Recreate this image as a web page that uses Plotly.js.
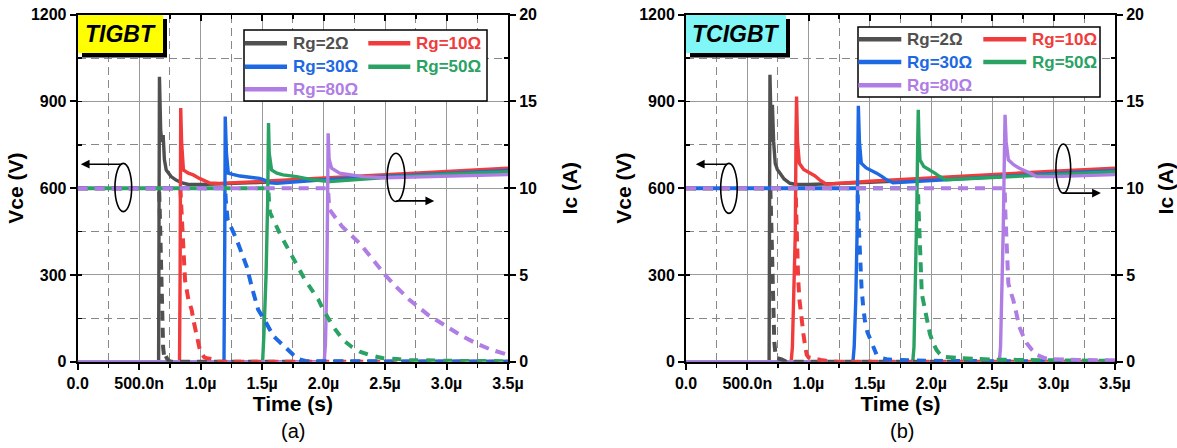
<!DOCTYPE html>
<html><head><meta charset="utf-8">
<script src="https://cdn.plot.ly/plotly-3.0.1.min.js"></script>
<style>html,body{margin:0;padding:0;background:#fff}#chart{width:1177px;height:448px}</style>
</head><body><div id="chart"></div>
<script>
// ---------------- DATA ----------------
const seriesNames = ['Rg=2Ω', 'Rg=10Ω', 'Rg=30Ω', 'Rg=50Ω', 'Rg=80Ω'];
const seriesColors = ['#505050', '#f03c3c', '#1d68e3', '#2aa264', '#b07de4'];
const xTickVals = [0, 0.5, 1, 1.5, 2, 2.5, 3, 3.5];
const xTickText = ['0.0', '500.0n', '1.0µ', '1.5µ', '2.0µ', '2.5µ', '3.0µ', '3.5µ'];
const vTickVals = [0, 300, 600, 900, 1200];
const iTickVals = [0, 5, 10, 15, 20];
const panelLabels = ['TIGBT', 'TCIGBT'];
const panelCaptions = ['(a)', '(b)'];

// Panel (a) TIGBT : time in µs, Vce in V
const tigbtVceTime = [
  [0, 0.658, 0.665, 0.675, 0.685, 0.695, 0.705, 0.72, 0.76, 0.80, 0.85, 0.90, 1.0, 1.5, 2.0, 2.5, 3.0, 3.5],
  [0, 0.828, 0.833, 0.838, 0.845, 0.86, 0.90, 0.94, 0.99, 1.03, 1.075, 1.15, 1.5, 2.0, 2.5, 3.0, 3.5],
  [0, 1.19, 1.196, 1.2, 1.21, 1.225, 1.26, 1.32, 1.40, 1.48, 1.53, 1.565, 1.62, 2.0, 2.5, 3.0, 3.5],
  [0, 1.504, 1.515, 1.532, 1.545, 1.552, 1.558, 1.577, 1.62, 1.67, 1.78, 1.915, 2.05, 2.5, 3.0, 3.5],
  [0, 2.005, 2.015, 2.025, 2.033, 2.037, 2.045, 2.065, 2.13, 2.32, 2.5, 3.0, 3.5]
];
const tigbtVce = [
  [0, 0, 985, 800, 760, 784, 700, 663, 640, 628, 618, 613, 613, 620, 630, 641, 652, 664],
  [0, 0, 300, 877, 760, 663, 652, 646, 634, 625, 618, 616, 624, 636, 648, 659, 669],
  [0, 0, 400, 848, 720, 652, 648, 642, 638, 634, 626, 619, 617, 629, 641, 652, 661],
  [0, 0, 98, 300, 550, 825, 720, 663, 652, 646, 640, 629, 623, 637, 648, 657],
  [0, 0, 60, 250, 560, 790, 700, 669, 652, 640, 636, 641, 647]
];
// Panel (a) TIGBT : Ic in A
const tigbtIcTime = [
  [0, 0.662, 0.668, 0.675, 0.68, 0.688, 0.695, 0.705, 0.715, 0.725, 0.74, 0.76, 3.5],
  [0, 0.835, 0.844, 0.86, 0.873, 0.90, 0.927, 0.947, 0.967, 0.99, 1.008, 1.03, 1.05, 1.10, 1.12, 3.5],
  [0, 1.2, 1.205, 1.22, 1.30, 1.374, 1.42, 1.468, 1.536, 1.59, 1.618, 1.68, 1.726, 1.753, 1.80, 1.86, 3.5],
  [0, 1.55, 1.556, 1.564, 1.65, 1.753, 1.85, 1.956, 1.997, 2.08, 2.16, 2.23, 2.295, 2.40, 2.485, 2.60, 2.70, 3.0, 3.5],
  [0, 2.035, 2.042, 2.05, 2.15, 2.296, 2.40, 2.5, 2.60, 2.70, 2.85, 3.0, 3.12, 3.24, 3.36, 3.5]
];
const tigbtIc = [
  [10, 10, 8.5, 6, 4.5, 2.5, 0.8, 0.2, 0.35, 0.2, 0.05, 0, 0],
  [10, 10, 8.75, 6.5, 4.7, 3.6, 2.98, 2.2, 1.44, 0.8, 0.48, 0.25, 0.2, 0.15, 0, 0],
  [10, 10, 9.2, 8.2, 6.9, 5.5, 4.2, 3.0, 2.2, 1.5, 1.3, 0.85, 0.58, 0.4, 0.15, 0.03, 0],
  [10, 10, 9.3, 8.6, 7.3, 5.9, 4.7, 3.6, 3.0, 2.0, 1.25, 0.85, 0.58, 0.33, 0.2, 0.15, 0.1, 0.05, 0.03],
  [10, 10, 9.3, 8.75, 7.8, 6.8, 5.9, 5.0, 4.25, 3.56, 2.7, 2.0, 1.5, 1.06, 0.7, 0.4]
];

// Panel (b) TCIGBT : time in µs, Vce in V
const tcigbtVceTime = [
  [0, 0.678, 0.685, 0.69, 0.697, 0.705, 0.715, 0.728, 0.745, 0.767, 0.80, 0.848, 0.90, 1.0, 1.5, 2.0, 2.5, 3.0, 3.5],
  [0, 0.858, 0.868, 0.88, 0.892, 0.898, 0.902, 0.91, 0.925, 0.96, 1.013, 1.05, 1.09, 1.145, 1.5, 2.0, 2.5, 3.0, 3.5],
  [0, 1.362, 1.372, 1.385, 1.396, 1.402, 1.406, 1.415, 1.43, 1.47, 1.52, 1.555, 1.60, 1.637, 1.69, 2.0, 2.5, 3.0, 3.5],
  [0, 1.85, 1.86, 1.87, 1.882, 1.89, 1.895, 1.90, 1.909, 1.94, 1.99, 2.03, 2.07, 2.12, 2.5, 3.0, 3.5],
  [0, 2.556, 2.566, 2.576, 2.588, 2.597, 2.603, 2.612, 2.63, 2.67, 2.72, 2.81, 2.86, 3.0, 3.5]
];
const tcigbtVce = [
  [0, 0, 992, 800, 760, 888, 760, 686, 665, 652, 632, 617, 613, 613, 620, 630, 641, 652, 664],
  [0, 0, 50, 213, 450, 800, 917, 760, 686, 665, 652, 643, 629, 614, 624, 636, 648, 659, 669],
  [0, 0, 50, 213, 450, 750, 885, 760, 686, 670, 660, 652, 640, 629, 619, 627, 640, 651, 661],
  [0, 0, 50, 213, 500, 750, 871, 780, 698, 675, 663, 652, 640, 629, 637, 648, 657],
  [0, 0, 50, 200, 450, 700, 854, 760, 698, 682, 669, 652, 640, 640, 647]
];
// Panel (b) TCIGBT : Ic in A
const tcigbtIcTime = [
  [0, 0.688, 0.694, 0.70, 0.706, 0.712, 0.72, 0.73, 0.745, 0.78, 0.82, 3.5],
  [0, 0.895, 0.90, 0.905, 0.915, 0.925, 0.94, 0.958, 0.972, 0.985, 1.0, 1.03, 1.066, 1.10, 1.20, 3.5],
  [0, 1.40, 1.405, 1.418, 1.432, 1.445, 1.459, 1.48, 1.514, 1.535, 1.555, 1.60, 1.637, 1.70, 2.0, 3.5],
  [0, 1.892, 1.898, 1.905, 1.915, 1.924, 1.95, 1.97, 1.99, 2.015, 2.045, 2.07, 2.1, 2.24, 2.5, 3.0, 3.5],
  [0, 2.6, 2.606, 2.615, 2.63, 2.65, 2.67, 2.695, 2.72, 2.75, 2.78, 2.82, 2.86, 2.93, 3.0, 3.2, 3.5]
];
const tcigbtIc = [
  [10, 10, 8.5, 6.5, 4.5, 2.8, 1.2, 0.4, 0.2, 0.14, 0, 0],
  [10, 10, 8.5, 6.4, 4.8, 3.6, 2.5, 1.6, 0.9, 0.4, 0.25, 0.18, 0.15, 0.1, 0, 0],
  [10, 10, 8.5, 6.0, 4.3, 3.2, 2.4, 1.7, 1.06, 0.7, 0.4, 0.2, 0.14, 0.1, 0.05, 0],
  [10, 10, 8.7, 7.0, 5.3, 3.9, 3.0, 2.3, 1.6, 1.1, 0.67, 0.45, 0.29, 0.2, 0.12, 0.08, 0.05],
  [10, 10, 8.5, 6.5, 4.5, 4.0, 3.56, 2.8, 2.0, 1.5, 1.06, 0.7, 0.4, 0.2, 0.14, 0.1, 0.08]
];

// ---------------- BUILD ----------------
const FONT = 'Arial, "Liberation Sans", sans-serif';
const W = 1177, H = 448;
const px = v => v / W;
const py = v => 1 - v / H;

const panels = [
  {vt: tigbtVceTime, v: tigbtVce, it: tigbtIcTime, i: tigbtIc, xa: 'x', ya: 'y', ia: 'y2', shifted: 3},
  {vt: tcigbtVceTime, v: tcigbtVce, it: tcigbtIcTime, i: tcigbtIc, xa: 'x2', ya: 'y3', ia: 'y4', shifted: 2}
];

const DASH = '10px,7px';
const DASH_SHIFT = '0px,8px,9px,0px';
const traces = [];
panels.forEach((p) => {
  for (let k = 0; k < 5; k++) {
    traces.push({
      type: 'scatter', mode: 'lines', x: p.vt[k], y: p.v[k], xaxis: p.xa, yaxis: p.ya,
      name: seriesNames[k], showlegend: false, hoverinfo: 'skip',
      line: {color: seriesColors[k], width: 3.4, shape: 'linear'}
    });
  }
  for (let k = 0; k < 5; k++) {
    traces.push({
      type: 'scatter', mode: 'lines', x: p.it[k], y: p.i[k], xaxis: p.xa, yaxis: p.ia,
      name: seriesNames[k] + ' Ic', showlegend: false, hoverinfo: 'skip',
      line: {color: seriesColors[k], width: 4, dash: k === p.shifted ? DASH_SHIFT : DASH}
    });
  }
});
// empty traces to host top mirror axes
traces.push({type: 'scatter', x: [], y: [], xaxis: 'x3', yaxis: 'y', showlegend: false});
traces.push({type: 'scatter', x: [], y: [], xaxis: 'x4', yaxis: 'y3', showlegend: false});

const tickFont = {family: FONT, size: 16, color: '#000', weight: 'bold'};
const titleFont = {family: FONT, size: 21, color: '#000', weight: 'bold'};
const yDomain = [1 - 361.7 / H, 1 - 14.7 / H];

function xAxis(dom, anchor) {
  return {
    domain: dom, anchor: anchor, range: [0, 3.5], autorange: false,
    tickmode: 'array', tickvals: xTickVals, ticktext: xTickText,
    ticks: 'outside', ticklen: 6, tickwidth: 2, tickcolor: '#000',
    showline: true, linecolor: '#000', linewidth: 2, zeroline: false,
    showgrid: true, gridcolor: '#999999', gridwidth: 1,
    minor: {dtick: 0.25, tick0: 0, showgrid: true, gridcolor: '#888888', griddash: '8px,5px', gridwidth: 1,
            ticks: 'outside', ticklen: 4, tickwidth: 1.5, tickcolor: '#000'},
    tickfont: tickFont, layer: 'below traces',
    title: {text: 'Time (s)', font: titleFont, standoff: 5}
  };
}
function topAxis(overl, anchor) {
  return {
    overlaying: overl, anchor: anchor, side: 'top', range: [0, 3.5], autorange: false,
    tickmode: 'array', tickvals: xTickVals, showticklabels: false,
    ticks: 'inside', ticklen: 6, tickwidth: 2, tickcolor: '#000',
    showline: true, linecolor: '#000', linewidth: 2, zeroline: false, showgrid: false,
    minor: {dtick: 0.25, tick0: 0, showgrid: false, ticks: 'inside', ticklen: 4, tickwidth: 1.5, tickcolor: '#000'}
  };
}
function vAxis(anchor) {
  return {
    domain: yDomain, anchor: anchor, range: [0, 1200], autorange: false,
    tickmode: 'array', tickvals: vTickVals,
    ticks: 'outside', ticklen: 6, tickwidth: 2, tickcolor: '#000',
    showline: true, linecolor: '#000', linewidth: 2, zeroline: false,
    showgrid: true, gridcolor: '#999999', gridwidth: 1,
    minor: {dtick: 150, tick0: 0, showgrid: true, gridcolor: '#888888', griddash: '8px,5px', gridwidth: 1,
            ticks: 'inside', ticklen: 4, tickwidth: 1.5, tickcolor: '#000'},
    tickfont: tickFont, layer: 'below traces',
    title: {text: 'Vce (V)', font: titleFont, standoff: 2}
  };
}
function iAxis(overl, anchor) {
  return {
    overlaying: overl, anchor: anchor, side: 'right', range: [0, 20], autorange: false,
    tickmode: 'array', tickvals: iTickVals,
    ticks: 'outside', ticklen: 6, tickwidth: 2, tickcolor: '#000',
    showline: true, linecolor: '#000', linewidth: 2, zeroline: false, showgrid: false,
    minor: {dtick: 2.5, tick0: 0, showgrid: false, ticks: 'inside', ticklen: 4, tickwidth: 1.5, tickcolor: '#000'},
    tickfont: tickFont, layer: 'below traces',
    title: {text: 'Ic (A)', font: titleFont, standoff: 26}
  };
}

const shapes = [];
const annotations = [];

// label boxes
const labelBoxes = [
  {x0: 78, x1: 163, fill: '#ffff00', cx: 120.5},
  {x0: 686, x1: 786, fill: '#80f6f6', cx: 736}
];
labelBoxes.forEach((b, i) => {
  shapes.push({type: 'rect', xref: 'paper', yref: 'paper', x0: px(b.x0 + 4), x1: px(b.x1 + 4), y0: py(57.5), y1: py(19),
    fillcolor: '#000', line: {width: 0}, layer: 'above'});
  shapes.push({type: 'rect', xref: 'paper', yref: 'paper', x0: px(b.x0), x1: px(b.x1), y0: py(53), y1: py(15),
    fillcolor: b.fill, line: {width: 0}, layer: 'above'});
  annotations.push({xref: 'paper', yref: 'paper', x: px(b.cx), y: py(34), xanchor: 'center', yanchor: 'middle',
    text: panelLabels[i], showarrow: false,
    font: {family: FONT, size: 23, color: '#000', weight: 'bold', style: 'italic'}});
});

// manual legends
const legendGeo = [
  {bx0: 244, bx1: 487, by0: 30, by1: 101, rows: [43.3, 66.7, 89.3], c1: 245, c2: 368.3, len: 42, gap: 5},
  {bx0: 858, bx1: 1100, by0: 27, by1: 97, rows: [39.3, 62, 85.3], c1: 858.3, c2: 983.3, len: 43, gap: 5}
];
legendGeo.forEach(g => {
  shapes.push({type: 'rect', xref: 'paper', yref: 'paper', x0: px(g.bx0), x1: px(g.bx1), y0: py(g.by1), y1: py(g.by0),
    fillcolor: '#fff', line: {color: '#000', width: 1.5}, layer: 'above'});
  seriesNames.forEach((n, k) => {
    const row = Math.floor(k / 2), col = k % 2;
    const lx = col === 0 ? g.c1 : g.c2;
    const ly = g.rows[row];
    shapes.push({type: 'line', xref: 'paper', yref: 'paper', x0: px(lx), x1: px(lx + g.len), y0: py(ly), y1: py(ly),
      line: {color: seriesColors[k], width: 4.5}, layer: 'above'});
    annotations.push({xref: 'paper', yref: 'paper', x: px(lx + g.len + g.gap - 1), y: py(ly), xanchor: 'left', yanchor: 'middle',
      text: n, showarrow: false, font: {family: FONT, size: 17, color: seriesColors[k], weight: 'bold'}});
  });
});

// ellipses & arrows (axis markers)
const markers = [
  {xr: 'x', yr: 'y', x0: 0.303, x1: 0.439, y0: 519, y1: 686, hx: 0.025, hy: 683, tx: 0.37, ty: 683},
  {xr: 'x', yr: 'y', x0: 2.517, x1: 2.661, y0: 554, y1: 721, hx: 2.90, hy: 556, tx: 2.58, ty: 556},
  {xr: 'x2', yr: 'y3', x0: 0.283, x1: 0.418, y0: 513, y1: 686, hx: 0.08, hy: 683, tx: 0.345, ty: 683},
  {xr: 'x2', yr: 'y3', x0: 3.018, x1: 3.138, y0: 583, y1: 753, hx: 3.385, hy: 583, tx: 3.064, ty: 583}
];
markers.forEach(m => {
  shapes.push({type: 'circle', xref: m.xr, yref: m.yr, x0: m.x0, x1: m.x1, y0: m.y0, y1: m.y1,
    line: {color: '#000', width: 1.6}, fillcolor: 'rgba(0,0,0,0)', layer: 'above'});
  annotations.push({xref: m.xr, yref: m.yr, axref: m.xr, ayref: m.yr, x: m.hx, y: m.hy, ax: m.tx, ay: m.ty,
    text: '', showarrow: true, arrowhead: 2, arrowsize: 1.1, arrowwidth: 1.6, arrowcolor: '#000'});
});

// captions
annotations.push({xref: 'paper', yref: 'paper', x: px(292.5), y: py(431), xanchor: 'center', yanchor: 'middle',
  text: panelCaptions[0], showarrow: false, font: {family: FONT, size: 20, color: '#000'}});
annotations.push({xref: 'paper', yref: 'paper', x: px(902), y: py(431), xanchor: 'center', yanchor: 'middle',
  text: panelCaptions[1], showarrow: false, font: {family: FONT, size: 20, color: '#000'}});

const layout = {
  width: W, height: H, margin: {l: 0, r: 0, t: 0, b: 0},
  paper_bgcolor: '#fff', plot_bgcolor: '#fff', showlegend: false,
  font: {family: FONT, color: '#000'},
  xaxis: xAxis([77.7 / W, 508 / W], 'y'),
  xaxis2: xAxis([686 / W, 1115 / W], 'y3'),
  xaxis3: topAxis('x', 'y'),
  xaxis4: topAxis('x2', 'y3'),
  yaxis: vAxis('x'),
  yaxis2: iAxis('y', 'x'),
  yaxis3: vAxis('x2'),
  yaxis4: iAxis('y3', 'x2'),
  shapes: shapes, annotations: annotations
};

Plotly.newPlot('chart', traces, layout, {staticPlot: true, displayModeBar: false});
</script>
</body></html>
